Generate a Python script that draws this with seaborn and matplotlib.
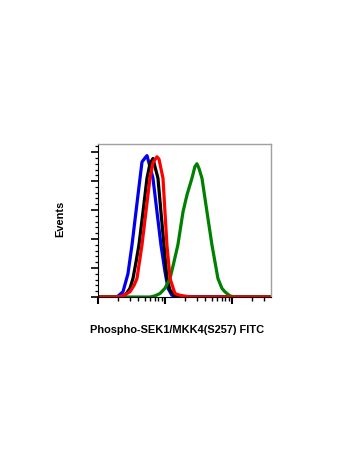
import matplotlib
matplotlib.use("Agg")
import matplotlib.pyplot as plt
import seaborn as sns
import pandas as pd
from matplotlib.ticker import LogLocator, MultipleLocator, NullFormatter

sns.set_style("white")
plt.rcParams['font.family'] = ['Liberation Sans', 'DejaVu Sans']

# Histogram outlines (x = FITC intensity, y = events)
blue_x = [1.0, 1.92, 2.36, 2.80, 3.22, 3.69, 4.24, 4.54, 5.03, 5.39, 5.97, 6.62, 7.60, 8.71, 10.0, 11.1, 12.7, 15.6, 380]
blue_y = [0, 0, 9, 40, 90, 147, 205, 233, 240, 244, 225, 205, 147, 90, 44, 15, 3, 0, 0]

black_x = [1.0, 2.13, 2.62, 3.00, 3.33, 3.69, 4.09, 4.70, 5.39, 5.97, 6.62, 7.09, 7.86, 8.71, 9.66, 10.7, 11.9, 14.1, 16.7, 380]
black_y = [0, 0, 5, 15, 32, 60, 90, 147, 205, 230, 239, 225, 205, 147, 90, 32, 12, 2, 0, 0]

green_x = [1.0, 5.97, 7.09, 8.42, 10.0, 11.9, 13.6, 15.6, 18.6, 21.3, 25.3, 28.0, 30.0, 32.2, 35.7, 42.4, 50.3, 61.8, 70.9, 78.6, 93.3, 111, 380]
green_y = [0, 0, 2, 6, 15, 32, 60, 90, 147, 176, 205, 225, 230, 222, 205, 147, 90, 32, 15, 9, 2, 0, 0]

red_x = [1.0, 1.99, 2.44, 3.00, 3.45, 3.82, 4.54, 5.20, 5.97, 6.62, 7.60, 8.14, 8.42, 9.34, 10.0, 10.7, 11.9, 14.1, 16.7, 21.3, 28.0, 380]
red_y = [0, 0, 3, 9, 20, 32, 90, 147, 205, 232, 242, 238, 230, 205, 147, 90, 32, 6, 3, 1, 0, 0]

series = [("blue", blue_x, blue_y, "#0000ee"),
          ("black", black_x, black_y, "#000000"),
          ("green", green_x, green_y, "#008000"),
          ("red", red_x, red_y, "#ff0000")]

fig = plt.figure(figsize=(3.5, 4.67), dpi=100)
ax = fig.add_axes([0.28, 0.364, 0.494, 0.3276])

for name, xs, ys, col in series:
    df = pd.DataFrame({"x": xs, "y": ys})
    sns.lineplot(data=df, x="x", y="y", ax=ax, color=col, linewidth=2.3,
                 estimator=None, sort=False)

ax.set_xscale("log")
ax.set_xlim(1, 382)
ax.set_ylim(0, 264)

ax.xaxis.set_major_locator(LogLocator(base=10))
ax.xaxis.set_minor_locator(LogLocator(base=10, subs=range(2, 10)))
ax.xaxis.set_major_formatter(NullFormatter())
ax.xaxis.set_minor_formatter(NullFormatter())
ax.yaxis.set_major_locator(MultipleLocator(50))
ax.yaxis.set_minor_locator(MultipleLocator(10))
ax.yaxis.set_major_formatter(NullFormatter())

ax.tick_params(axis="x", which="major", direction="out", length=5, width=1.5, color="black", bottom=True)
ax.tick_params(axis="x", which="minor", direction="out", length=3, width=1.0, color="black", bottom=True)
ax.tick_params(axis="y", which="major", direction="out", length=5, width=1.2, color="black", left=True)
ax.tick_params(axis="y", which="minor", direction="out", length=2.5, width=0.9, color="black", left=True)

for s in ["top", "right"]:
    ax.spines[s].set_color("#a0a0a0")
    ax.spines[s].set_linewidth(1.0)
for s in ["left", "bottom"]:
    ax.spines[s].set_color("black")
    ax.spines[s].set_linewidth(0.8)

ax.set_xlabel("Phospho-SEK1/MKK4(S257) FITC", fontsize=7.9, fontweight="bold", color="black")
ax.set_ylabel("Events", fontsize=7.9, fontweight="bold", color="black")
ax.xaxis.set_label_coords(0.46, -0.18)
ax.yaxis.set_label_coords(-0.19, 0.51)

fig.savefig("out.png", dpi=100)
